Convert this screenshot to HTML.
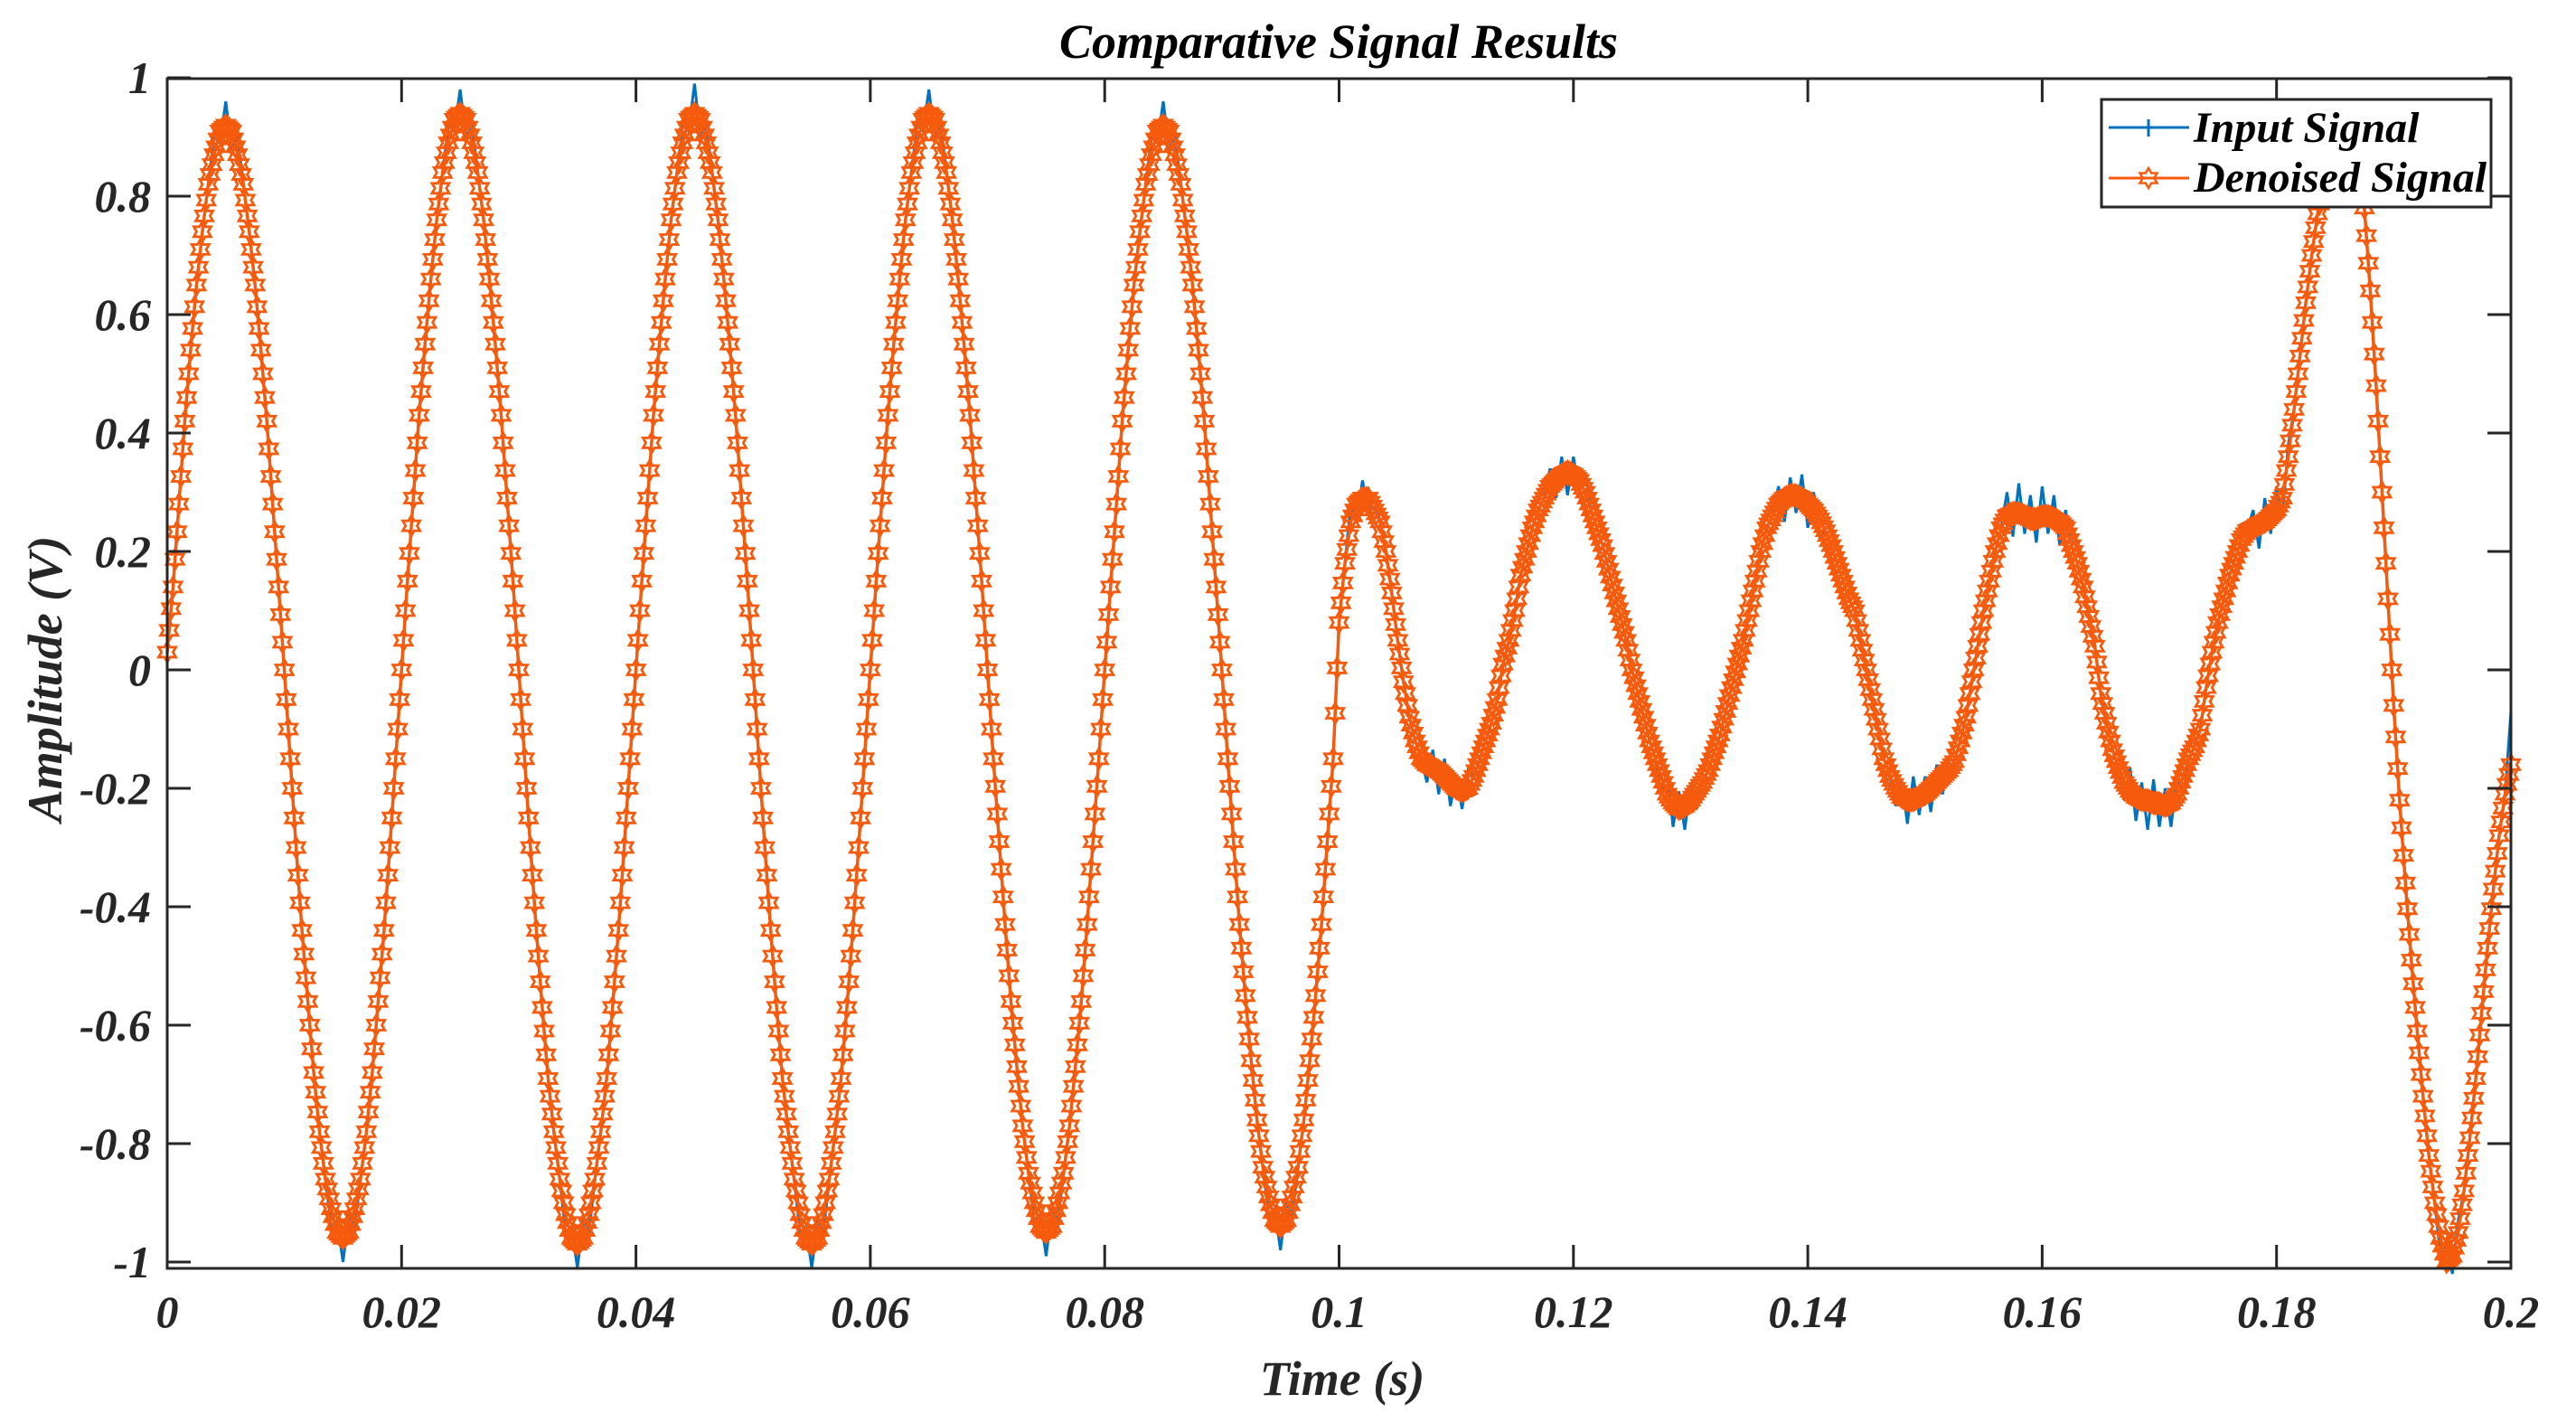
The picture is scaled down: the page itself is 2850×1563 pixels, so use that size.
<!DOCTYPE html>
<html><head><meta charset="utf-8"><title>Comparative Signal Results</title>
<style>
html,body{margin:0;padding:0;background:#fff;}
svg{display:block;}
svg text{font-family:"Liberation Serif","Times New Roman",serif;font-weight:bold;font-style:italic;}
</style></head>
<body>
<svg id="chart" width="2850" height="1563" viewBox="0 0 2850 1563" xmlns="http://www.w3.org/2000/svg">
  <rect x="0" y="0" width="2850" height="1563" fill="#fff"/>
  <text x="1481" y="64" font-family="Liberation Serif, serif" font-size="54" text-anchor="middle" fill="#000">Comparative Signal Results</text>
  <g id="plot"></g>
  <g id="axes"></g>
  <text x="1485" y="1543" font-family="Liberation Serif, serif" font-size="54" text-anchor="middle" fill="#262626">Time (s)</text>
  <text x="0" y="0" font-family="Liberation Serif, serif" font-size="54" text-anchor="middle" fill="#262626" transform="translate(68,751) rotate(-90)">Amplitude (V)</text>
  <g>
    <rect x="2325" y="110" width="431" height="119" fill="#fff" stroke="#262626" stroke-width="3"/>
    <g>
      <line x1="2333" y1="141" x2="2422" y2="141" stroke="#0072BD" stroke-width="3"/>
      <line x1="2377" y1="132" x2="2377" y2="151" stroke="#0072BD" stroke-width="3"/>
      <text x="2427" y="157" font-family="Liberation Serif, serif" font-size="48" fill="#000">Input Signal</text>
    </g>
    <g>
      <line x1="2333" y1="197" x2="2422" y2="197" stroke="#F65A0D" stroke-width="3"/>
      <path id="legStar" fill="none" stroke="#F65A0D" stroke-width="2.5"/>
      <text x="2427" y="212" font-family="Liberation Serif, serif" font-size="48" fill="#000">Denoised Signal</text>
    </g>
  </g>
</svg>
<script>
// ---- data (sampled every 0.5 ms from 0 to 0.2 s) ----
const tStart = 0, tStep = 0.0005;
const denoised = [
0.03,.14,.28,.42,.54,.65,.74,.82,.87,.91,.92,.91,.87,.82,.74,.65,.54,.42,.28,.14,
0,-.15,-.30,-.44,-.56,-.68,-.78,-.86,-.91,-.95,-.96,-.95,-.91,-.86,-.78,-.68,-.56,-.44,-.30,-.15,
0,.15,.29,.43,.55,.66,.76,.84,.89,.93,.94,.93,.89,.84,.76,.66,.55,.43,.29,.15,
0,-.15,-.30,-.44,-.57,-.69,-.78,-.86,-.92,-.96,-.97,-.96,-.92,-.86,-.78,-.69,-.57,-.44,-.30,-.15,
0,.15,.29,.43,.55,.66,.76,.84,.89,.93,.94,.93,.89,.84,.76,.66,.55,.43,.29,.15,
0,-.15,-.30,-.44,-.57,-.69,-.78,-.86,-.92,-.96,-.97,-.96,-.92,-.86,-.78,-.69,-.57,-.44,-.30,-.15,
0,.15,.29,.43,.55,.66,.76,.84,.89,.93,.94,.93,.89,.84,.76,.66,.55,.43,.29,.15,
0,-.15,-.29,-.43,-.56,-.67,-.77,-.85,-.90,-.94,-.95,-.94,-.90,-.85,-.77,-.67,-.56,-.43,-.29,-.15,
0,.14,.28,.42,.54,.65,.74,.82,.87,.91,.92,.91,.87,.82,.74,.65,.54,.42,.28,.14,
0,-.15,-.29,-.43,-.55,-.66,-.76,-.84,-.89,-.93,-.94,-.93,-.89,-.84,-.76,-.66,-.55,-.43,-.29,-.15,
.08,.18,.25,.28,.29,.29,.27,.25,.20,.13,.05,-.02,-.08,-.12,-.15,-.16,-.165,-.17,-.18,-.19,
-.20,-.205,-.20,-.18,-.15,-.12,-.09,-.05,.01,.05,.10,.16,.20,.24,.27,.29,.31,.32,.33,.335,
.33,.32,.30,.27,.24,.21,.17,.13,.09,.05,.00,-.04,-.08,-.12,-.15,-.18,-.21,-.225,-.235,-.23,
-.22,-.205,-.19,-.17,-.14,-.11,-.07,-.03,.01,.05,.10,.15,.20,.24,.26,.28,.29,.295,.295,.29,
.28,.27,.255,.235,.21,.18,.15,.12,.10,.05,.00,-.05,-.10,-.15,-.18,-.20,-.215,-.22,-.22,-.215,
-.21,-.20,-.19,-.18,-.17,-.155,-.12,-.08,-.02,.04,.10,.15,.20,.24,.26,.265,.265,.26,.255,.255,
.26,.26,.255,.25,.24,.21,.18,.14,.09,.04,-.04,-.09,-.135,-.165,-.19,-.205,-.215,-.22,-.22,-.225,
-.225,-.23,-.225,-.21,-.18,-.15,-.13,-.10,-.03,.03,.08,.12,.16,.19,.22,.235,.24,.245,.25,.26,
.27,.29,.36,.44,.53,.62,.70,.77,.82,.86,.89,.91,.92,.91,.87,.78,.64,.48,.30,.12,
-.06,-.22,-.36,-.49,-.61,-.72,-.82,-.90,-.96,-1.00,-.99,-.95,-.88,-.79,-.69,-.58,-.47,-.37,-.28,-.21,
-.16
];
// input signal = denoised + measured noise excursions (sparse)
const inputNoiseIdx = [8,9,10,11,12, 28,29,30,31,32, 48,49,50,51,52, 68,69,70,71,72, 88,89,90,91,92,
 108,109,110,111,112, 128,129,130,131,132, 148,149,150,151,152, 168,169,170,171,172, 188,189,190,191,192,
 202,203,204,205,206, 215,216,217,218,219,220,221,222, 236,237,238,239,240,241,242,
 255,256,257,258,259,260,261,262, 275,276,277,278,279,280,281,282,
 295,296,297,298,299,300,301,302,303,304, 314,315,316,317,318,319,320,321,322,323,324,
 334,335,336,337,338,339,340,341,342,343,344, 356,357,358,359,360,361,362, 388,389,390,391, 400];
const inputNoiseVal = [.03,-.02,.04,-.03,.03, -.03,.02,-.04,.03,-.03, .03,-.02,.04,-.03,.03, -.03,.02,-.04,.03,-.03, .03,-.02,.05,-.03,.03,
 -.03,.02,-.04,.03,-.03, .03,-.02,.04,-.03,.03, -.03,.02,-.04,.03,-.03, .03,-.02,.04,-.03,.03, -.03,.02,-.04,.03,-.03,
 .03,-.03,.03,-.02,.02, -.03,.03,-.04,.03,-.04,.02,-.03,.03, .03,-.03,.03,-.04,.03,-.02,.03,
 -.03,.04,-.04,.03,-.04,.03,-.03,.02, .03,-.04,.03,-.03,.04,-.04,.03,-.03,
 -.03,.03,-.04,.04,-.03,.03,-.04,.03,-.03,.02, .04,-.04,.05,-.03,.04,-.04,.05,-.03,.04,-.04,.03,
 -.03,.04,-.04,.03,-.05,.04,-.04,.03,-.04,.03,-.03, .03,-.04,.04,-.03,.04,-.03,.02, -.03,.03,-.03,.02, .09];
const xTickVals = [0,0.02,0.04,0.06,0.08,0.1,0.12,0.14,0.16,0.18,0.2];
const xTickLabels = ["0","0.02","0.04","0.06","0.08","0.1","0.12","0.14","0.16","0.18","0.2"];
const yTickVals = [1,0.8,0.6,0.4,0.2,0,-0.2,-0.4,-0.6,-0.8,-1];
const yTickLabels = ["1","0.8","0.6","0.4","0.2","0","-0.2","-0.4","-0.6","-0.8","-1"];

// ---- axis geometry ----
const L = 185, R = 2778, T = 87, B = 1403;
const xMin = 0, xMax = 0.2;
const y0px = 741, yPerUnit = 655;
function xs(t){ return L + (t - xMin) / (xMax - xMin) * (R - L); }
function ys(v){ return y0px - v * yPerUnit; }

const NS = "http://www.w3.org/2000/svg";
const plot = document.getElementById('plot');
const axes = document.getElementById('axes');
function mk(tag, attrs, parent){
  const e = document.createElementNS(NS, tag);
  for (const k in attrs) e.setAttribute(k, attrs[k]);
  parent.appendChild(e);
  return e;
}
function starPath(cx, cy, r){
  let d = "";
  const ri = r * 0.577;
  for (let k = 0; k < 12; k++){
    const a = -Math.PI/2 + k * Math.PI/6;
    const rr = (k % 2 === 0) ? r : ri;
    d += (k === 0 ? "M" : "L") + (cx + rr*Math.cos(a)).toFixed(1) + "," + (cy + rr*Math.sin(a)).toFixed(1);
  }
  return d + "Z";
}

const defs = mk('defs', {}, plot);
const cp = mk('clipPath', {id:'clipPlot'}, defs);
mk('rect', {x:L, y:T-20, width:R-L, height:B-T+40}, cp);

// input signal
const noise = new Array(denoised.length).fill(0);
inputNoiseIdx.forEach((idx, k) => { noise[idx] = inputNoiseVal[k]; });
let dIn = "";
denoised.forEach((v, i) => {
  const t = tStart + i * tStep;
  dIn += (i ? "L" : "M") + xs(t).toFixed(1) + "," + ys(v + noise[i]).toFixed(1);
});
const inputLine = mk('path', {d:dIn, fill:'none', stroke:'#0072BD', 'stroke-width':3, 'clip-path':'url(#clipPlot)'}, plot);



// denoised signal
let dDn = "";
denoised.forEach((v, i) => {
  const t = tStart + i * tStep;
  dDn += (i ? "L" : "M") + xs(t).toFixed(1) + "," + ys(v).toFixed(1);
});
const dnLine = mk('path', {d:dDn, fill:'none', stroke:'#F65A0D', 'stroke-width':3.5}, plot);



// markers: at each sample and along each segment (render density like original)
let dMk = "";
const sub = 3;
denoised.forEach((v, i) => {
  const x = xs(tStart + i * tStep), y = ys(v);
  dMk += starPath(x, y, 11);
  if (i < denoised.length - 1){
    const x2 = xs(tStart + (i+1) * tStep), y2 = ys(denoised[i+1]);
    for (let s = 1; s < sub; s++){
      const f = s / sub;
      dMk += starPath(x + (x2-x)*f, y + (y2-y)*f, 11);
    }
  }
});
const markers = mk('path', {d:dMk, fill:'none', stroke:'#F65A0D', 'stroke-width':2.8}, plot);



document.getElementById('legStar').setAttribute('d', starPath(2377, 197, 11));

const box = mk('rect', {x:L, y:T, width:R-L, height:B-T, fill:'none', stroke:'#262626', 'stroke-width':3}, axes);



const tl = 26;
xTickVals.forEach((t, k) => {
  const x = xs(t);
  const a = mk('line', {x1:x, y1:B, x2:x, y2:B-tl, stroke:'#262626', 'stroke-width':3}, axes);
  
  
  const b = mk('line', {x1:x, y1:T, x2:x, y2:T+tl, stroke:'#262626', 'stroke-width':3}, axes);
  
  
  const tx = mk('text', {x:x, y:1468, 'font-family':'Liberation Serif, serif', 'font-size':50, 'text-anchor':'middle', fill:'#262626'}, axes);
  tx.textContent = xTickLabels[k];
  
  
});
yTickVals.forEach((v, k) => {
  const y = ys(v);
  const a = mk('line', {x1:L, y1:y, x2:L+tl, y2:y, stroke:'#262626', 'stroke-width':3}, axes);
  
  
  const b = mk('line', {x1:R, y1:y, x2:R-tl, y2:y, stroke:'#262626', 'stroke-width':3}, axes);
  
  
  const tx = mk('text', {x:167, y:y+17, 'font-family':'Liberation Serif, serif', 'font-size':50, 'text-anchor':'end', fill:'#262626'}, axes);
  tx.textContent = yTickLabels[k];
  
  
});
</script>
</body></html>
